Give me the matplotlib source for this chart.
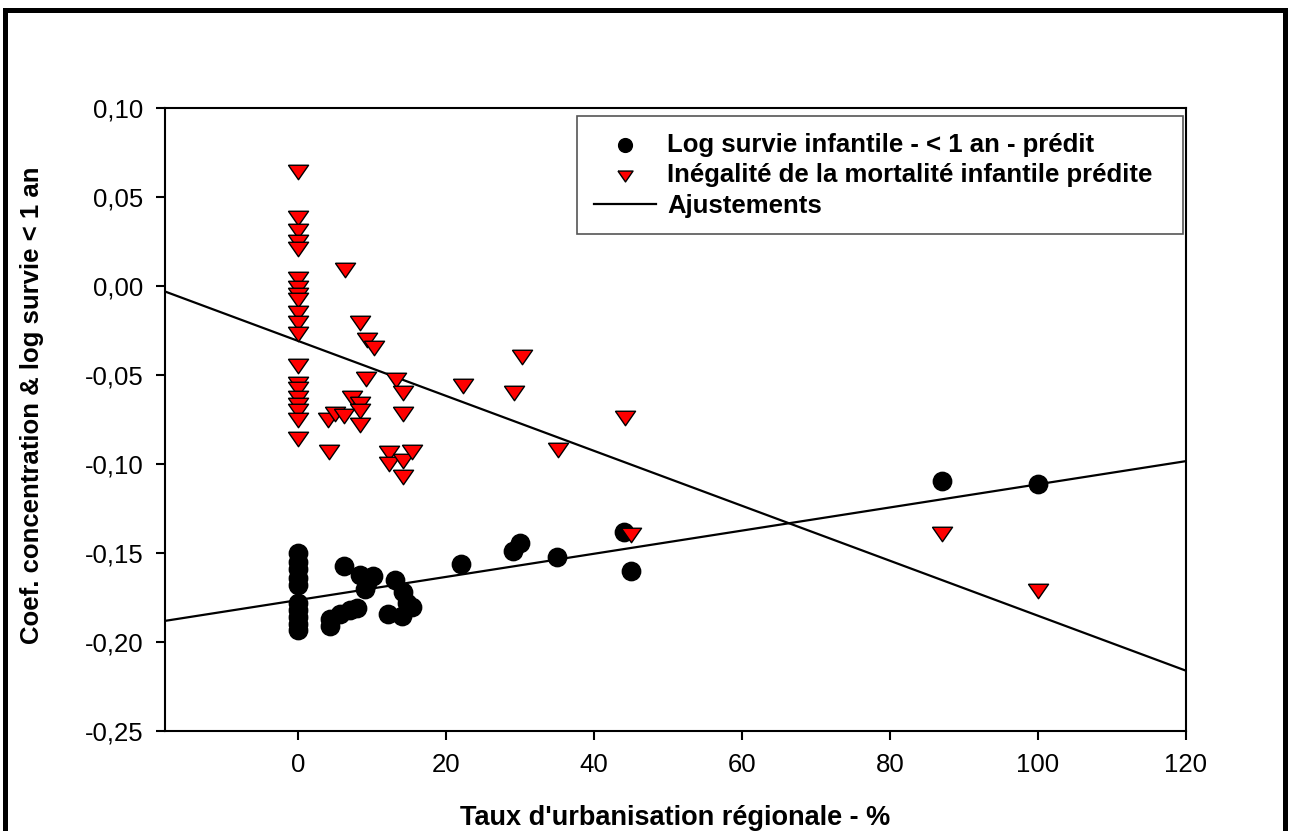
import numpy as np
import matplotlib
matplotlib.use("Agg")
from matplotlib import pyplot as plt
from matplotlib.patches import Rectangle
from matplotlib.ticker import FuncFormatter

plt.rcParams['font.family'] = ['Liberation Sans', 'DejaVu Sans']

# urbanisation rate (%) and predicted log infant survival (< 1 year)
survie_x = [0, 0, 0, 0, 0, 0, 0, 0, 0, 0,
            6.2, 8.4, 10.1, 9.3, 9.1, 13.1, 14.2, 14.7, 15.4, 12.2,
            14.0, 8.0, 7.0, 5.7, 4.3, 4.3,
            22, 29, 30, 35, 44, 45, 87, 100]
survie_y = [-0.150, -0.155, -0.159, -0.164, -0.168, -0.178, -0.182, -0.186, -0.190, -0.193,
            -0.157, -0.162, -0.163, -0.167, -0.170, -0.165, -0.172, -0.178, -0.180, -0.184,
            -0.185, -0.181, -0.182, -0.184, -0.187, -0.191,
            -0.156, -0.149, -0.144, -0.152, -0.138, -0.160, -0.1095, -0.111]

# urbanisation rate (%) and predicted infant mortality inequality
inegal_x = [0] * 20 + [
    6.4, 8.3, 9.3, 10.3, 9.2, 13.2, 14.2, 22.3, 30.3, 29.2,
    44.2, 35.1, 14.2, 7.3, 8.4, 8.4, 8.3, 4.1, 5.0, 6.2,
    4.2, 12.3, 12.3, 14.2, 15.4, 14.2, 45, 87, 100]
inegal_y = [0.064, 0.038, 0.031, 0.025, 0.021, 0.004, -0.001, -0.005, -0.008, -0.015,
            -0.021, -0.027, -0.045, -0.055, -0.058, -0.063, -0.067, -0.070, -0.075, -0.086,
            0.009, -0.021, -0.030, -0.035, -0.052, -0.053, -0.060, -0.056, -0.040, -0.060,
            -0.074, -0.092, -0.072, -0.063, -0.066, -0.070, -0.078, -0.075, -0.072, -0.073,
            -0.093, -0.094, -0.100, -0.098, -0.093, -0.107, -0.140, -0.139, -0.171]

# fitted lines (intercept, slope)
fit_survie = [-0.1763, 0.00065]
fit_inegal = [-0.0308, -0.001543]

xticks = [0, 20, 40, 60, 80, 100, 120]
yticks = [-0.25, -0.20, -0.15, -0.10, -0.05, 0.00, 0.05, 0.10]
xlim = (-18, 120)
ylim = (-0.25, 0.10)

fig = plt.figure(figsize=(12.89, 8.31), dpi=100)
ax = fig.add_axes([0.128, 0.120, 0.792, 0.750])

tri = [(-1, 0.72), (1, 0.72), (0, -0.72), (-1, 0.72)]

xx = np.array(xlim)
ax.plot(xx, fit_survie[0] + fit_survie[1] * xx, color='black', lw=1.6, zorder=3)
ax.plot(xx, fit_inegal[0] + fit_inegal[1] * xx, color='black', lw=1.6, zorder=3,
        label='Ajustements')
ax.scatter(survie_x, survie_y, s=175, marker='o', color='black', zorder=4,
           label='Log survie infantile - < 1 an - prédit')
ax.scatter(inegal_x, inegal_y, s=210, marker=tri, facecolor='#ff0000',
           edgecolor='black', linewidths=1.0, zorder=4,
           label='Inégalité de la mortalité infantile prédite')

ax.set_xlim(*xlim)
ax.set_ylim(*ylim)
ax.set_xticks(xticks)
ax.set_yticks(yticks)
ax.yaxis.set_major_formatter(FuncFormatter(lambda v, p: f"{v:.2f}".replace('.', ',')))
ax.tick_params(direction='out', length=6.5, width=1.5, labelsize=18.5, pad=9,
               top=False, right=False)
for s in ax.spines.values():
    s.set_linewidth(1.5)

ax.set_xlabel("Taux d'urbanisation régionale - %", fontsize=19.5, fontweight='bold',
              labelpad=20)
ax.set_ylabel("Coef. concentration & log survie < 1 an", fontsize=18.5, fontweight='bold')
ax.yaxis.set_label_coords(-0.119, 0.523)

h, l = ax.get_legend_handles_labels()
order = [1, 2, 0]
leg = ax.legend([h[i] for i in order], [l[i] for i in order],
                loc='upper left', bbox_to_anchor=(0.404, 0.796, 0.593, 0.191),
                mode='expand', borderaxespad=0, fancybox=False, framealpha=1,
                edgecolor='#555555', prop={'weight': 'bold', 'size': 18.5},
                handlelength=2.4, handletextpad=0.45, labelspacing=0.25,
                borderpad=0.65, markerscale=0.75)
leg.get_frame().set_linewidth(1.2)

# thick outer frame around the whole picture
fig.patches.append(Rectangle((5 / 1289, -0.05), 1280 / 1289, 1.05 - 10 / 831,
                             transform=fig.transFigure, fill=False,
                             edgecolor='black', linewidth=3.6))

fig.savefig('out.png', dpi=100)
